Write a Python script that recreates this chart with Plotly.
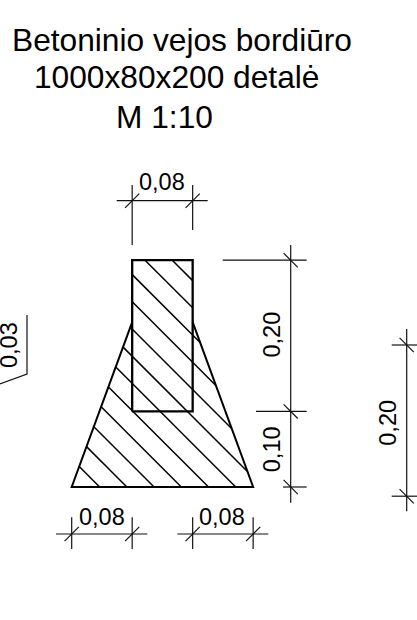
import numpy as np
import plotly.graph_objects as go

# Drawing scale and geometry (metres)
title_lines = ["Betoninio vejos bordiūro", "1000x80x200 detalė", "M 1:10"]
post_width = 0.08
post_height = 0.20
footing_side = 0.08
footing_height = 0.10
footing_shoulder = 0.218
side_dim_left = 0.03
side_dim_right = 0.20
hatch_intercepts = [0.037, 0.073, 0.109, 0.145, 0.181, 0.217, 0.253, 0.289, 0.325, 0.361, 0.397, 0.433]

PX = 756.0
X_ORIGIN = 71.7
Y_ORIGIN = 487.0
W, H = 417, 620


def mx(px):
    return (px - X_ORIGIN) / PX


def my(py):
    return (Y_ORIGIN - py) / PX


x0 = footing_side
x1 = footing_side + post_width
base_r = x1 + footing_side
y_bot = footing_height
y_top = footing_height + post_height

fig = go.Figure()


def lines(segments, width, color="#000000"):
    xs, ys = [], []
    for seg in segments:
        for p in seg:
            xs.append(p[0])
            ys.append(p[1])
        xs.append(None)
        ys.append(None)
    fig.add_trace(go.Scatter(x=xs, y=ys, mode="lines", line=dict(color=color, width=width),
                             hoverinfo="skip", showlegend=False))


# Hatching clipped to the section
ys_grid = np.linspace(0, y_top, 6001)
hatch = []
for c in hatch_intercepts:
    xs_line = c - ys_grid
    xl = np.where(ys_grid <= footing_shoulder, x0 * ys_grid / footing_shoulder, x0)
    xr = np.where(ys_grid <= footing_shoulder, base_r - x0 * ys_grid / footing_shoulder, x1)
    inside = (xs_line >= xl) & (xs_line <= xr)
    if inside.any():
        yy = ys_grid[inside]
        hatch.append([(c - yy.min(), yy.min()), (c - yy.max(), yy.max())])
lines(hatch, 1.5)

# Outlines
lines([[(x0, footing_shoulder), (0, 0), (base_r, 0), (x1, footing_shoulder)]], 2.0)
lines([[(x0, y_bot), (x0, y_top), (x1, y_top), (x1, y_bot), (x0, y_bot)]], 2.3)

TICK = 7.1 / PX
dim = []
# Top width dimension
yd = my(200.7)
dim.append([(mx(116.7), yd), (mx(207.7), yd)])
dim.append([(x0, my(185)), (x0, my(245))])
dim.append([(x1, my(185)), (x1, my(230))])
for xv in (x0, x1):
    dim.append([(xv - TICK, yd - TICK), (xv + TICK, yd + TICK)])

# Bottom width dimensions
yd = my(534)
dim.append([(mx(56), yd), (mx(147.3), yd)])
dim.append([(mx(177.3), yd), (mx(268.3), yd)])
for xv in (0, x0, x1, base_r):
    dim.append([(xv, my(517.3)), (xv, my(549))])
    dim.append([(xv - TICK, yd - TICK), (xv + TICK, yd + TICK)])

# Right height dimension
xd = mx(290.7)
dim.append([(xd, my(245)), (xd, my(502.7))])
dim.append([(mx(222.7), y_top), (mx(306.7), y_top)])
dim.append([(mx(256), y_bot), (mx(306.7), y_bot)])
dim.append([(mx(283), 0), (mx(306.7), 0)])
for yv in (y_top, y_bot, 0):
    dim.append([(xd - TICK, yv + TICK), (xd + TICK, yv - TICK)])

# Far right dimension
xd = mx(406.7)
yt = my(345)
yb = yt - side_dim_right
dim.append([(xd, my(329)), (xd, yb - 15 / PX)])
for yv in (yt, yb):
    dim.append([(mx(391.7), yv), (mx(417), yv)])
    dim.append([(xd - TICK, yv + TICK), (xd + TICK, yv - TICK)])

# Far left cut-off dimension
dim.append([(mx(27), my(315)), (mx(27), my(374)), (mx(-3), my(385))])
lines(dim, 1.2, "#111111")


def fmt(v):
    return f"{v:.2f}".replace(".", ",")


def label(px, py, v, angle=0):
    fig.add_annotation(x=mx(px), y=my(py), text=fmt(v), showarrow=False, textangle=angle,
                       xanchor="center", yanchor="middle",
                       font=dict(family="Liberation Sans", size=23.5, color="#000000"))


label(162, 182.3, post_width)
label(101.7, 516.7, footing_side)
label(222.3, 516.7, footing_side)
label(271.7, 334.8, post_height, -90)
label(271.7, 449.5, footing_height, -90)
label(387.2, 422.5, side_dim_right, -90)
label(8.3, 344.7, side_dim_left, -90)

for text, px, py in zip(title_lines, (182, 176, 164.5), (39.5, 77.3, 117)):
    fig.add_annotation(x=mx(px), y=my(py), text=text, showarrow=False,
                       xanchor="center", yanchor="middle",
                       font=dict(family="Liberation Sans", size=31.7, color="#000000"))

fig.update_xaxes(range=[mx(0), mx(W)], visible=False, fixedrange=True)
fig.update_yaxes(range=[my(H), my(0)], visible=False, fixedrange=True)
fig.update_layout(width=W, height=H, margin=dict(l=0, r=0, t=0, b=0),
                  paper_bgcolor="white", plot_bgcolor="white", showlegend=False)
fig.write_html("out.html", config={"displayModeBar": False},
               post_script="document.body.style.margin='0';document.documentElement.style.overflow='hidden';")
